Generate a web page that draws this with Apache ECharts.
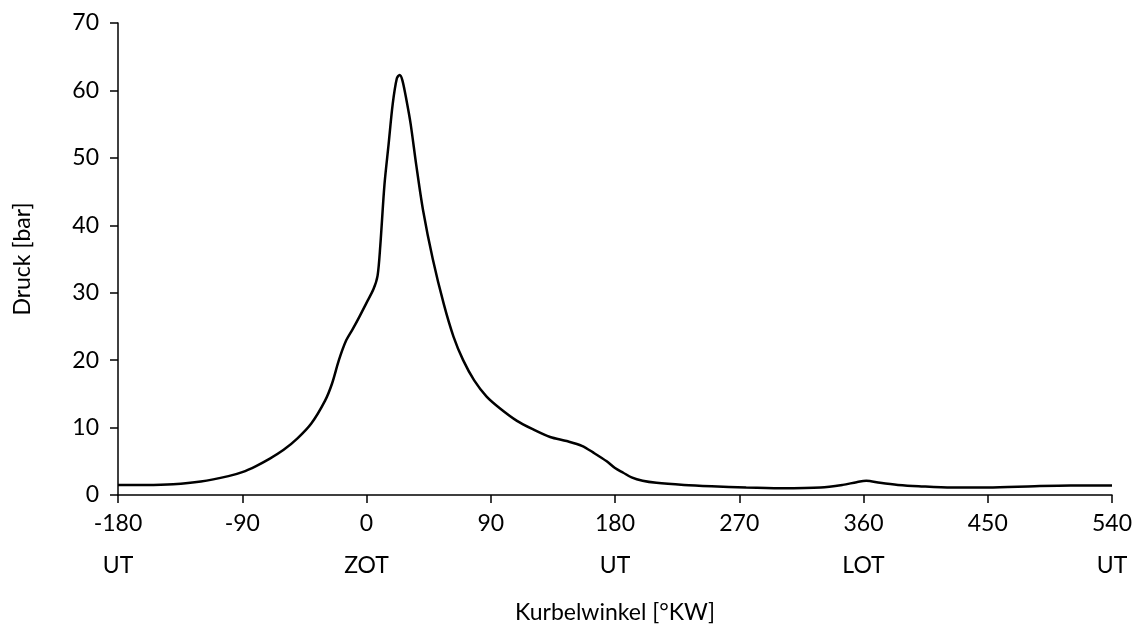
<!DOCTYPE html>
<html>
<head>
<meta charset="utf-8">
<script src="https://cdn.jsdelivr.net/npm/echarts@6/dist/echarts.min.js"></script>
<style>html,body{margin:0;padding:0;background:#fff;}#c{width:1145px;height:635px;}</style>
</head>
<body>
<div id="c"></div>
<script>
const angles = [-180,-160,-140,-120,-100,-90,-80,-70,-60,-50,-40,-30,-25,-20,-15,-10,-5,0,5,8,10,13,16,19,22,24,26,29,32,36,41,48,56,63,70,78,87,97,109,120,133,145,156,165,174,180,186,192,200,210,230,250,275,300,329,345,355,362,372,385,400,424,450,484,510,540];
const pressure = [1.5,1.5,1.6,2.0,2.8,3.4,4.3,5.4,6.7,8.4,10.6,14,16.5,20,22.8,24.6,26.5,28.5,30.5,32.5,37,46,52,58,61.8,62.3,61.5,58.5,55,49,42.2,35,28.3,23.5,20,17,14.6,12.8,11.0,9.8,8.6,8.0,7.3,6.2,5.0,4.0,3.3,2.6,2.1,1.8,1.5,1.3,1.1,1.0,1.1,1.5,1.9,2.1,1.8,1.5,1.3,1.1,1.1,1.3,1.4,1.4];
const xTickValues = [-180,-90,0,90,180,270,360,450,540];
const xTickNames = ['UT','','ZOT','','UT','','LOT','','UT'];
const yTicks = [0,10,20,30,40,50,60,70];

const font = 'Lato, "Open Sans", sans-serif';
const chart = echarts.init(document.getElementById('c'));
chart.setOption({
  animation: false,
  backgroundColor: '#fff',
  grid: {left: 118, right: 33, top: 23, bottom: 140},
  xAxis: {
    type: 'value', min: -180, max: 540, interval: 90,
    name: 'Kurbelwinkel [°KW]', nameLocation: 'middle', nameGap: 106,
    nameTextStyle: {fontFamily: font, fontSize: 23, color: '#000'},
    axisLine: {show: true, onZero: false, lineStyle: {color: '#000', width: 1.5}},
    axisTick: {show: true, length: 8, lineStyle: {color: '#000', width: 1.5}},
    splitLine: {show: false},
    axisLabel: {
      fontFamily: font, fontSize: 23, color: '#000', margin: 8, lineHeight: 42,
      formatter: function (v) {
        const i = xTickValues.indexOf(v);
        const n = i >= 0 ? xTickNames[i] : '';
        return v + '\n' + n;
      }
    }
  },
  yAxis: {
    type: 'value', min: 0, max: 70, interval: 10,
    name: 'Druck [bar]', nameLocation: 'middle', nameGap: 84, nameRotate: 90,
    nameTextStyle: {fontFamily: font, fontSize: 23, color: '#000'},
    axisLine: {show: true, onZero: false, lineStyle: {color: '#000', width: 1.5}},
    axisTick: {show: true, length: 8, lineStyle: {color: '#000', width: 1.5}},
    splitLine: {show: false},
    axisLabel: {fontFamily: font, fontSize: 23, color: '#000', margin: 19,
      formatter: function (v) { return yTicks.indexOf(v) >= 0 ? String(v) : ''; }}
  },
  series: [{
    type: 'line',
    data: angles.map((a, i) => [a, pressure[i]]),
    smooth: 0.3,
    symbol: 'none',
    lineStyle: {color: '#000', width: 2.5}
  }]
});
</script>
</body>
</html>
